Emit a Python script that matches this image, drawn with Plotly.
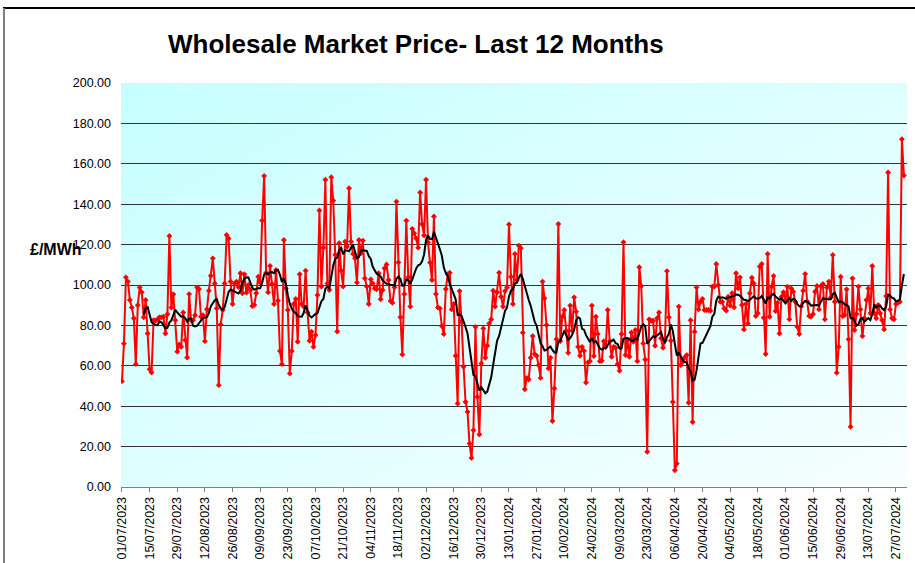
import base64
import pandas as pd
import plotly.graph_objects as go

# Daily wholesale price (GBP/MWh), 01/07/2023 .. 31/07/2024, in six consecutive blocks
prices_2023_07_01 = [52.4, 71, 103.8, 101.7, 92.6, 88.8, 83.5, 60.8, 90, 98.8,
                     96.4, 84, 92.6, 76, 58.3, 56.7, 82.6, 82.3, 83, 84,
                     84, 84.3, 76, 85.5, 124.3, 88.8, 95.4, 82.6, 67, 70.6,
                     69.4, 86.4, 72.7, 64.1, 95.5, 82.6, 82.6, 85, 98.8, 98,
                     84.3, 85, 72.2, 88, 97.2, 104.6, 113.2, 100.8, 88.4, 50.4,
                     80.5, 87.6, 100.8, 124.8, 123, 101.7, 90.6, 100.8, 101.7, 99,
                     105.8, 95.9, 105.3, 96.2, 100]
prices_2023_09_04 = [97.5, 89.6, 90.1, 95.9, 104.1, 101.2, 131.9, 154, 106.1, 96.4,
                     109.4, 100.5, 90.6, 107.4, 92.2, 67.3, 60.8, 122.3, 98.3, 87.6,
                     56.2, 67.3, 90.6, 93.1, 71.9, 105.3, 90.6, 89.3, 107.1, 86.4,
                     72.4, 76.9, 69.4, 75.2, 95, 136.9, 99.2, 118.5, 152.1, 100.8,
                     97.5, 153.4, 141.8,
                     115, 77, 120.7, 107.1, 99.2, 121.5, 119, 147.9, 121.5, 115.4,
                     113.2, 101.2, 122.3, 115.7, 122, 103.3, 99.2, 90.6, 102.8, 100.8,
                     98.3]
prices_2023_11_07 = [97.9, 105.8, 92.9, 97.5, 108.3, 110.2, 102.5, 92.1, 91.2, 98.8,
                     141.3, 111.2, 84, 65.6, 95.5, 131.9, 103.8, 89.3, 127.8, 125.6,
                     123.1, 118.5, 145.8, 130.2, 124.5, 152.1, 121.2, 111.1, 102.5, 133.9,
                     95.5, 88.8, 88.4, 79.7, 75.7, 98, 105.3, 106.1, 87.9, 90.6,
                     65, 41.3, 97, 81.8, 59.5, 42.1, 37.2, 21.5, 14.4, 28.1,
                     79.3, 44.6, 26, 61.2, 78.5, 64, 69.9, 81, 83, 97.2,
                     89.3, 96.4, 106.1, 94.2, 89.3, 97, 98.8, 130, 104.1]
prices_2024_01_15 = [90.6, 115.4, 102.5, 119.5, 118.2, 76.4, 48.4, 54, 53.2, 64,
                     74.7, 65.8, 65, 60.3, 54, 101.7, 93.4, 80.2, 58.7, 64,
                     32.7, 48.8, 73.2, 130.2, 72.2, 84.3, 87.6, 77.4, 66.4, 89.8,
                     77.4, 93.9, 86.8, 69.4, 65, 69.4, 67.4, 51.7, 61.7, 62.3,
                     89.8, 64.8, 84.3, 75.7, 62.3, 62.5, 72.2, 69.4, 87.6, 72.2,
                     64.5, 69.4, 68.9, 60.8, 57.5, 75.7, 121.2, 65.3, 72.7, 64.5,
                     76.5, 71.9, 77.7, 62.3, 108.8]
prices_2024_03_20 = [99.5, 71.1, 63.1, 17.4, 83, 82.3, 82.3, 69.9, 83.5, 86.4,
                     73.6, 68.9, 72.7, 106.9, 84, 72.4, 42.1, 8.3, 11.6, 89.3,
                     60.3, 62, 64.1, 65.3, 41.7, 82.6, 32.2, 76.9, 98.8, 87.9,
                     91.7, 93.1, 87.6, 87.6, 87.6, 87.3, 99.2, 99.2, 110.4, 100,
                     91.7, 91.7, 88.4, 87.3, 94.2, 89.8, 95.9, 88.9, 105.8, 98.3,
                     103.8, 90.1, 78, 90.6, 81, 95.9, 103.6, 100.8, 84.6, 86,
                     109.1, 110.4, 83.8, 65.8, 115.4]
prices_2024_05_24 = [84.3, 99.2, 104.5, 87.1, 91.2, 76, 94.2, 96.4, 92.6, 99.2,
                     83, 98.3, 96.7, 91.7, 79.3, 75.7, 89.3, 97.2, 105.5, 92,
                     84.6, 84.3, 85.6, 96.7, 99.5, 87.9, 99.5, 100.5, 83, 98.8,
                     101.7, 93.9, 114.9, 91.7, 56.5, 69.4, 104.1, 84.6, 85.1, 97.9,
                     73.1, 29.8, 103.3, 77.7, 85.6, 99.2, 87.9, 74.7, 83.5, 92.6,
                     98.3, 86, 109.4, 86, 83.5, 90.1, 86, 82.6, 78, 94.5,
                     155.7, 87.9, 83.5, 83, 90.6, 91.2, 91.7, 172.2, 154.2]

prices = (prices_2023_07_01 + prices_2023_09_04 + prices_2023_11_07 +
          prices_2024_01_15 + prices_2024_03_20 + prices_2024_05_24)
dates = pd.date_range("2023-07-01", periods=len(prices), freq="D")
date_str = [d.strftime("%Y-%m-%d") for d in dates]

# Excel-style moving-average trendline of the plotted prices
ma_period = 12
trend = pd.Series(prices).rolling(ma_period).mean()

tick_dates = pd.date_range("2023-07-01", "2024-07-27", freq="14D")
tick_vals = [d.strftime("%Y-%m-%d") for d in tick_dates]
tick_labels = [d.strftime("%d/%m/%Y") for d in tick_dates]
y_ticks = [0, 20, 40, 60, 80, 100, 120, 140, 160, 180, 200]

fig = go.Figure()
fig.add_trace(go.Scatter(
    x=date_str, y=prices, mode="lines+markers",
    line=dict(color="#ff0000", width=2),
    marker=dict(symbol="diamond", size=4.5, color="#ff0000"),
    showlegend=False))
fig.add_trace(go.Scatter(
    x=date_str, y=trend, mode="lines",
    line=dict(color="#000000", width=2),
    showlegend=False))

svg = ('<svg xmlns="http://www.w3.org/2000/svg" width="100" height="100">'
       '<defs><linearGradient id="g" x1="0" y1="0" x2="1" y2="1">'
       '<stop offset="0" stop-color="#c6ffff"/><stop offset="1" stop-color="#f7ffff"/>'
       '</linearGradient></defs><rect width="100" height="100" fill="url(#g)"/></svg>')
bg_src = "data:image/svg+xml;base64," + base64.b64encode(svg.encode()).decode()

L, R, T, B = 121, 8, 83, 76
W, H = 915, 563
pw, ph = W - L - R, H - T - B

def px(xp):
    return (xp - L) / pw

def py(yp):
    return (H - B - yp) / ph

x_start = "2023-06-30 12:00"
x_end = "2024-08-01 14:00"

fig.update_layout(
    width=W, height=H, autosize=False,
    margin=dict(l=L, r=R, t=T, b=B, pad=0, autoexpand=False),
    paper_bgcolor="#ffffff", plot_bgcolor="#e6ffff",
    font=dict(family="Liberation Sans, Arial, sans-serif", color="#000000"),
    images=[dict(source=bg_src, xref="paper", yref="paper", x=0, y=1,
                 sizex=1, sizey=1, sizing="stretch", layer="below")],
    xaxis=dict(
        type="date", range=[x_start, x_end], automargin=False,
        tickmode="array", tickvals=tick_vals, ticktext=tick_labels,
        tickangle=-90, tickfont=dict(size=12.5),
        showgrid=False, showline=True, linecolor="#808080", linewidth=1,
        ticks="outside", ticklen=4, tickcolor="#808080", zeroline=False),
    yaxis=dict(
        range=[0, 200], automargin=False, tickmode="array", tickvals=y_ticks,
        ticktext=[f"{v:.2f}" for v in y_ticks], tickfont=dict(size=12.5),
        showgrid=True, gridcolor="#333333", gridwidth=1,
        showline=False, zeroline=False, ticks="", ticklabelstandoff=9),
    annotations=[
        dict(text="<b>Wholesale Market Price- Last 12 Months</b>",
             xref="paper", yref="paper", x=px(416), y=py(44),
             xanchor="center", yanchor="middle", showarrow=False,
             font=dict(size=26, family="Liberation Sans, Arial, sans-serif")),
        dict(text="<b>£/MWh</b>", xref="paper", yref="paper",
             x=px(84), y=py(249), xanchor="right", yanchor="middle",
             showarrow=False, font=dict(size=16)),
    ],
    shapes=[
        dict(type="line", xref="paper", yref="paper",
             x0=px(3), x1=px(916), y0=py(8), y1=py(8),
             line=dict(color="#000000", width=2)),
        dict(type="line", xref="paper", yref="paper",
             x0=px(4), x1=px(4), y0=py(8), y1=py(570),
             line=dict(color="#808080", width=2)),
    ],
)

fig.write_html("out.html",
               config={"displayModeBar": False},
               post_script="document.body.style.margin='0';"
                           "document.body.style.overflow='hidden';")
